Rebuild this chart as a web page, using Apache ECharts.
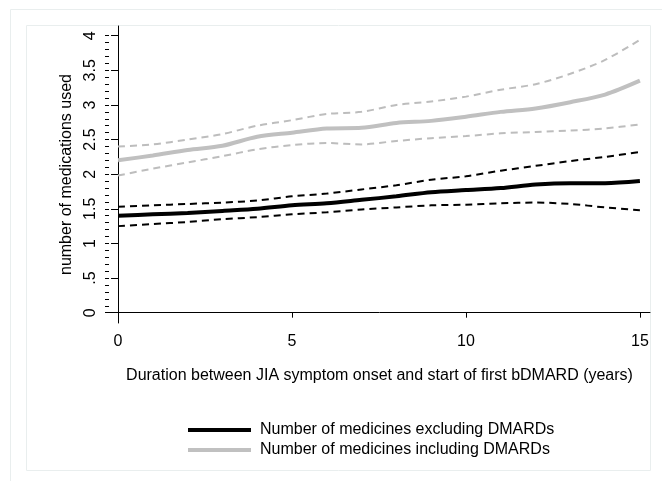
<!DOCTYPE html>
<html>
<head>
<meta charset="utf-8">
<style>
  html, body { margin: 0; padding: 0; background: #fff; }
  #chart { width: 662px; height: 481px; }
</style>
<script src="https://cdn.jsdelivr.net/npm/echarts@6/dist/echarts.min.js"></script>
</head>
<body>
<div id="chart"></div>
<script>
const years = [0, 1, 2, 3, 4, 5, 6, 7, 8, 9, 10, 11, 12, 13, 14, 15];

const exclMean  = [1.40, 1.42, 1.44, 1.47, 1.50, 1.55, 1.58, 1.63, 1.68, 1.74, 1.77, 1.80, 1.85, 1.87, 1.87, 1.90];
const exclUpper = [1.53, 1.55, 1.57, 1.59, 1.62, 1.68, 1.72, 1.78, 1.84, 1.92, 1.97, 2.05, 2.12, 2.19, 2.25, 2.32];
const exclLower = [1.25, 1.28, 1.31, 1.35, 1.38, 1.42, 1.45, 1.49, 1.52, 1.55, 1.56, 1.58, 1.59, 1.57, 1.52, 1.48];

const inclMean  = [2.20, 2.27, 2.35, 2.41, 2.54, 2.60, 2.66, 2.67, 2.74, 2.77, 2.83, 2.90, 2.95, 3.04, 3.15, 3.35];
const inclUpper = [2.40, 2.43, 2.50, 2.58, 2.70, 2.78, 2.87, 2.90, 3.00, 3.05, 3.12, 3.22, 3.30, 3.45, 3.65, 3.94];
const inclLower = [1.98, 2.08, 2.17, 2.26, 2.36, 2.42, 2.45, 2.43, 2.48, 2.52, 2.55, 2.59, 2.61, 2.63, 2.66, 2.72];

const xTicks = [0, 5, 10, 15];
const yTicks = [0, 0.5, 1, 1.5, 2, 2.5, 3, 3.5, 4];
// minor ticks every 0.1 on the y axis
const yMinorTicks = Array.from({ length: 41 }, (_, i) => i / 10);

const FONT = '"Liberation Sans", Arial, sans-serif';

function pairs(ys) {
    return years.map((x, i) => [x, ys[i]]);
}

function solid(name, color, ys) {
    return {
        name, type: 'line', data: pairs(ys), smooth: 0.3, symbol: 'none',
        lineStyle: { color, width: 4 }, itemStyle: { color }
    };
}

function dashed(color, ys) {
    return {
        type: 'line', data: pairs(ys), smooth: 0.3, symbol: 'none',
        lineStyle: { color, width: 2, type: [7, 5] }, silent: true
    };
}

const chart = echarts.init(document.getElementById('chart'), null, { renderer: 'canvas' });

chart.setOption({
    animation: false,
    textStyle: { fontFamily: FONT },
    grid: { left: 109, right: 12, top: 26, bottom: 158 },
    graphic: [
        { type: 'rect', shape: { x: 10.5, y: 9.5, width: 700, height: 500 },
          style: { fill: null, stroke: '#e9eeee', lineWidth: 1 }, z: -10 },
        { type: 'rect', shape: { x: 26.5, y: 25.5, width: 624, height: 445 },
          style: { fill: null, stroke: '#e9eeee', lineWidth: 1 }, z: -10 }
    ],
    legend: {
        orient: 'vertical', left: 183, top: 417, itemGap: 4,
        icon: 'rect', itemWidth: 63, itemHeight: 4,
        textStyle: { fontFamily: FONT, fontSize: 16, color: '#000', padding: [0, 0, 0, 4] },
        data: ['Number of medicines excluding DMARDs', 'Number of medicines including DMARDs']
    },
    xAxis: {
        type: 'value', min: -0.26, max: 15.29,
        splitLine: { show: false },
        axisLine: { lineStyle: { color: '#000', width: 1 } },
        axisTick: { customValues: xTicks, length: 5, lineStyle: { color: '#000' } },
        axisLabel: { customValues: xTicks, color: '#000', fontSize: 16, margin: 11, fontFamily: FONT },
        name: 'Duration between JIA symptom onset and start of first bDMARD (years)',
        nameLocation: 'middle', nameGap: 45,
        nameTextStyle: { color: '#000', fontSize: 16, fontFamily: FONT }
    },
    yAxis: [
        {
            type: 'value', min: -0.149, max: 4.14,
            splitLine: { show: false },
            axisLine: { show: true, lineStyle: { color: '#000', width: 1 } },
            axisTick: { customValues: yTicks, length: 7, lineStyle: { color: '#000' } },
            axisLabel: {
                customValues: yTicks, rotate: 90, color: '#000', fontSize: 16, margin: 10, fontFamily: FONT,
                formatter: v => (v > 0 && v < 1 ? String(v).replace(/^0/, '') : String(v))
            },
            name: 'number of medications used', nameLocation: 'middle', nameGap: 34,
            nameTextStyle: { color: '#000', fontSize: 16, fontFamily: FONT }
        },
        {
            type: 'value', min: -0.149, max: 4.14, position: 'left',
            splitLine: { show: false },
            axisLine: { show: false },
            axisTick: { customValues: yMinorTicks, length: 4, lineStyle: { color: '#000' } },
            axisLabel: { show: false }
        }
    ],
    series: [
        dashed('#bdbdbd', inclUpper),
        dashed('#bdbdbd', inclLower),
        solid('Number of medicines including DMARDs', '#c0c0c0', inclMean),
        dashed('#000', exclUpper),
        dashed('#000', exclLower),
        solid('Number of medicines excluding DMARDs', '#000', exclMean)
    ]
});

window.addEventListener('resize', () => chart.resize());
</script>
</body>
</html>
